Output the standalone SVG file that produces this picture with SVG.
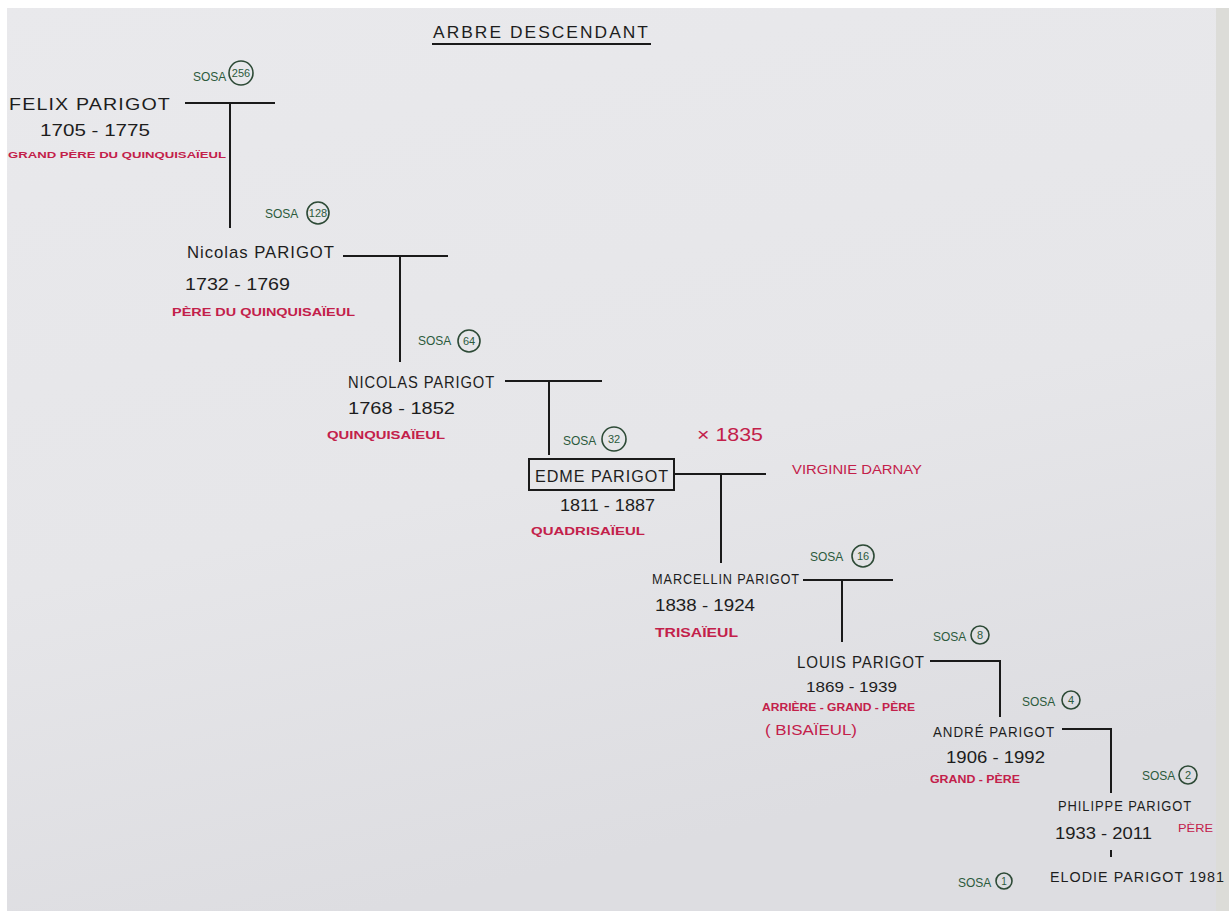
<svg xmlns="http://www.w3.org/2000/svg" width="1229" height="911" viewBox="0 0 1229 911">
<defs>
<linearGradient id="paper" x1="0" y1="0" x2="0.3" y2="1">
<stop offset="0" stop-color="#e9e9ec"/>
<stop offset="0.6" stop-color="#e6e6e9"/>
<stop offset="1" stop-color="#dddde1"/>
</linearGradient>
<style>
.name{font-family:"Liberation Sans",Arial,sans-serif;font-size:17px;fill:#1d1d1d;letter-spacing:1px}
.date{font-family:"Liberation Sans",Arial,sans-serif;font-size:17px;fill:#1d1d1d}
.rel{font-family:"Liberation Sans",Arial,sans-serif;font-size:11px;fill:#c3204a;font-weight:bold}
.sosa{font-family:"Liberation Sans",Arial,sans-serif;font-size:12px;fill:#2c5a3c}
.num{font-family:"Liberation Sans",Arial,sans-serif;font-size:11px;fill:#2c5a3c;text-anchor:middle}
.ring{fill:none;stroke:#2d4a36;stroke-width:1.6}
.line{stroke:#1a1a1a;stroke-width:2;fill:none}
.title{font-family:"Liberation Sans",Arial,sans-serif;font-size:17px;fill:#1d1d1d;letter-spacing:2px}
</style>
</defs>
<rect x="0" y="0" width="1229" height="911" fill="url(#paper)"/>
<rect x="0" y="0" width="1229" height="8" fill="#ffffff"/>
<rect x="0" y="0" width="7" height="911" fill="#ffffff"/>
<rect x="1216" y="8" width="13" height="903" fill="#dcdcd8"/>

<g id="title">
<text class="title" x="433" y="38" textLength="217" lengthAdjust="spacingAndGlyphs">ARBRE DESCENDANT</text>
<line x1="432" y1="44" x2="651" y2="44" stroke="#1a1a1a" stroke-width="2"/>
</g>

<g id="connectors">
<polyline class="line" points="185,103 275,103"/>
<line class="line" x1="230" y1="103" x2="230" y2="228"/>
<line class="line" x1="343" y1="256" x2="448" y2="256"/>
<line class="line" x1="400" y1="256" x2="400" y2="362"/>
<line class="line" x1="505" y1="381" x2="602" y2="381"/>
<line class="line" x1="549" y1="381" x2="549" y2="455"/>
<line class="line" x1="674" y1="474" x2="766" y2="474"/>
<line class="line" x1="721" y1="474" x2="721" y2="563"/>
<line class="line" x1="803" y1="580" x2="893" y2="580"/>
<line class="line" x1="842" y1="580" x2="842" y2="642"/>
<polyline class="line" points="930,661 1000,661 1000,717"/>
<polyline class="line" points="1062,729 1111,729 1111,793"/>
<line class="line" x1="1111" y1="850" x2="1111" y2="857"/>
</g>

<g id="felix">
<text class="sosa" x="193" y="81">SOSA</text>
<circle class="ring" cx="241" cy="73" r="12"/>
<text class="num" x="241" y="77">256</text>
<text class="name" x="9" y="110" textLength="162" lengthAdjust="spacingAndGlyphs">FELIX PARIGOT</text>
<text class="date" x="40" y="136" textLength="110" lengthAdjust="spacingAndGlyphs">1705 - 1775</text>
<text class="rel" x="8" y="158" textLength="218" lengthAdjust="spacingAndGlyphs" style="font-size:9px">GRAND PÈRE DU QUINQUISAÏEUL</text>
</g>

<g id="nicolas1">
<text class="sosa" x="265" y="218">SOSA</text>
<circle class="ring" cx="318" cy="213" r="11"/>
<text class="num" x="318" y="217">128</text>
<text class="name" x="187" y="258" textLength="148" lengthAdjust="spacingAndGlyphs">Nicolas PARIGOT</text>
<text class="date" x="185" y="290" textLength="105" lengthAdjust="spacingAndGlyphs">1732 - 1769</text>
<text class="rel" x="172" y="316" textLength="183" lengthAdjust="spacingAndGlyphs">PÈRE DU QUINQUISAÏEUL</text>
</g>

<g id="nicolas2">
<text class="sosa" x="418" y="345">SOSA</text>
<circle class="ring" cx="469" cy="341" r="11"/>
<text class="num" x="469" y="345">64</text>
<text class="name" x="348" y="388" textLength="147" lengthAdjust="spacingAndGlyphs">NICOLAS PARIGOT</text>
<text class="date" x="348" y="414" textLength="107" lengthAdjust="spacingAndGlyphs">1768 - 1852</text>
<text class="rel" x="327" y="439" textLength="118" lengthAdjust="spacingAndGlyphs">QUINQUISAÏEUL</text>
</g>

<g id="edme">
<text class="sosa" x="563" y="445">SOSA</text>
<circle class="ring" cx="614" cy="439" r="12"/>
<text class="num" x="614" y="443">32</text>
<text x="697" y="441" style="font-family:'Liberation Sans',Arial,sans-serif;font-size:19px;fill:#c3204a" textLength="66" lengthAdjust="spacingAndGlyphs">× 1835</text>
<rect x="529" y="459" width="145" height="31" fill="none" stroke="#1a1a1a" stroke-width="2"/>
<text class="name" x="535" y="482" textLength="134" lengthAdjust="spacingAndGlyphs">EDME PARIGOT</text>
<text class="date" x="560" y="511" textLength="95" lengthAdjust="spacingAndGlyphs">1811 - 1887</text>
<text class="rel" x="531" y="535" textLength="114" lengthAdjust="spacingAndGlyphs">QUADRISAÏEUL</text>
</g>

<g id="virginie">
<text class="rel" x="792" y="474" textLength="130" lengthAdjust="spacingAndGlyphs" style="font-weight:normal;font-size:12px">VIRGINIE DARNAY</text>
</g>

<g id="marcellin">
<text class="sosa" x="810" y="561">SOSA</text>
<circle class="ring" cx="863" cy="556" r="11"/>
<text class="num" x="863" y="560">16</text>
<text class="name" x="652" y="584" textLength="148" lengthAdjust="spacingAndGlyphs" style="font-size:14px">MARCELLIN PARIGOT</text>
<text class="date" x="655" y="611" textLength="100" lengthAdjust="spacingAndGlyphs">1838 - 1924</text>
<text class="rel" x="655" y="637" textLength="83" lengthAdjust="spacingAndGlyphs" style="font-size:13px">TRISAÏEUL</text>
</g>

<g id="louis">
<text class="sosa" x="933" y="641">SOSA</text>
<circle class="ring" cx="980" cy="635" r="9"/>
<text class="num" x="980" y="639">8</text>
<text class="name" x="797" y="668" textLength="128" lengthAdjust="spacingAndGlyphs">LOUIS PARIGOT</text>
<text class="date" x="806" y="692" textLength="91" lengthAdjust="spacingAndGlyphs" style="font-size:15px">1869 - 1939</text>
<text class="rel" x="762" y="711" textLength="153" lengthAdjust="spacingAndGlyphs" style="font-size:10px">ARRIÈRE - GRAND - PÈRE</text>
<text class="rel" x="765" y="735" textLength="92" lengthAdjust="spacingAndGlyphs" style="font-size:14px;font-weight:normal">( BISAÏEUL)</text>
</g>

<g id="andre">
<text class="sosa" x="1022" y="706">SOSA</text>
<circle class="ring" cx="1071" cy="700" r="9"/>
<text class="num" x="1071" y="704">4</text>
<text class="name" x="933" y="737" textLength="122" lengthAdjust="spacingAndGlyphs" style="font-size:14px">ANDRÉ PARIGOT</text>
<text class="date" x="946" y="763" textLength="99" lengthAdjust="spacingAndGlyphs">1906 - 1992</text>
<text class="rel" x="930" y="783" textLength="90" lengthAdjust="spacingAndGlyphs" style="font-size:10px">GRAND - PÈRE</text>
</g>

<g id="philippe">
<text class="sosa" x="1142" y="780">SOSA</text>
<circle class="ring" cx="1188" cy="775" r="9"/>
<text class="num" x="1188" y="779">2</text>
<text class="name" x="1058" y="811" textLength="134" lengthAdjust="spacingAndGlyphs" style="font-size:14px">PHILIPPE PARIGOT</text>
<text class="date" x="1055" y="839" textLength="97" lengthAdjust="spacingAndGlyphs">1933 - 2011</text>
<text class="rel" x="1178" y="832" textLength="35" lengthAdjust="spacingAndGlyphs" style="font-size:10px;font-weight:normal">PÈRE</text>
</g>

<g id="elodie">
<text class="sosa" x="958" y="887">SOSA</text>
<circle class="ring" cx="1004" cy="881" r="8"/>
<text class="num" x="1004" y="885" style="font-size:10px">1</text>
<text class="name" x="1050" y="882" textLength="175" lengthAdjust="spacingAndGlyphs" style="font-size:14px">ELODIE PARIGOT 1981</text>
</g>
</svg>
